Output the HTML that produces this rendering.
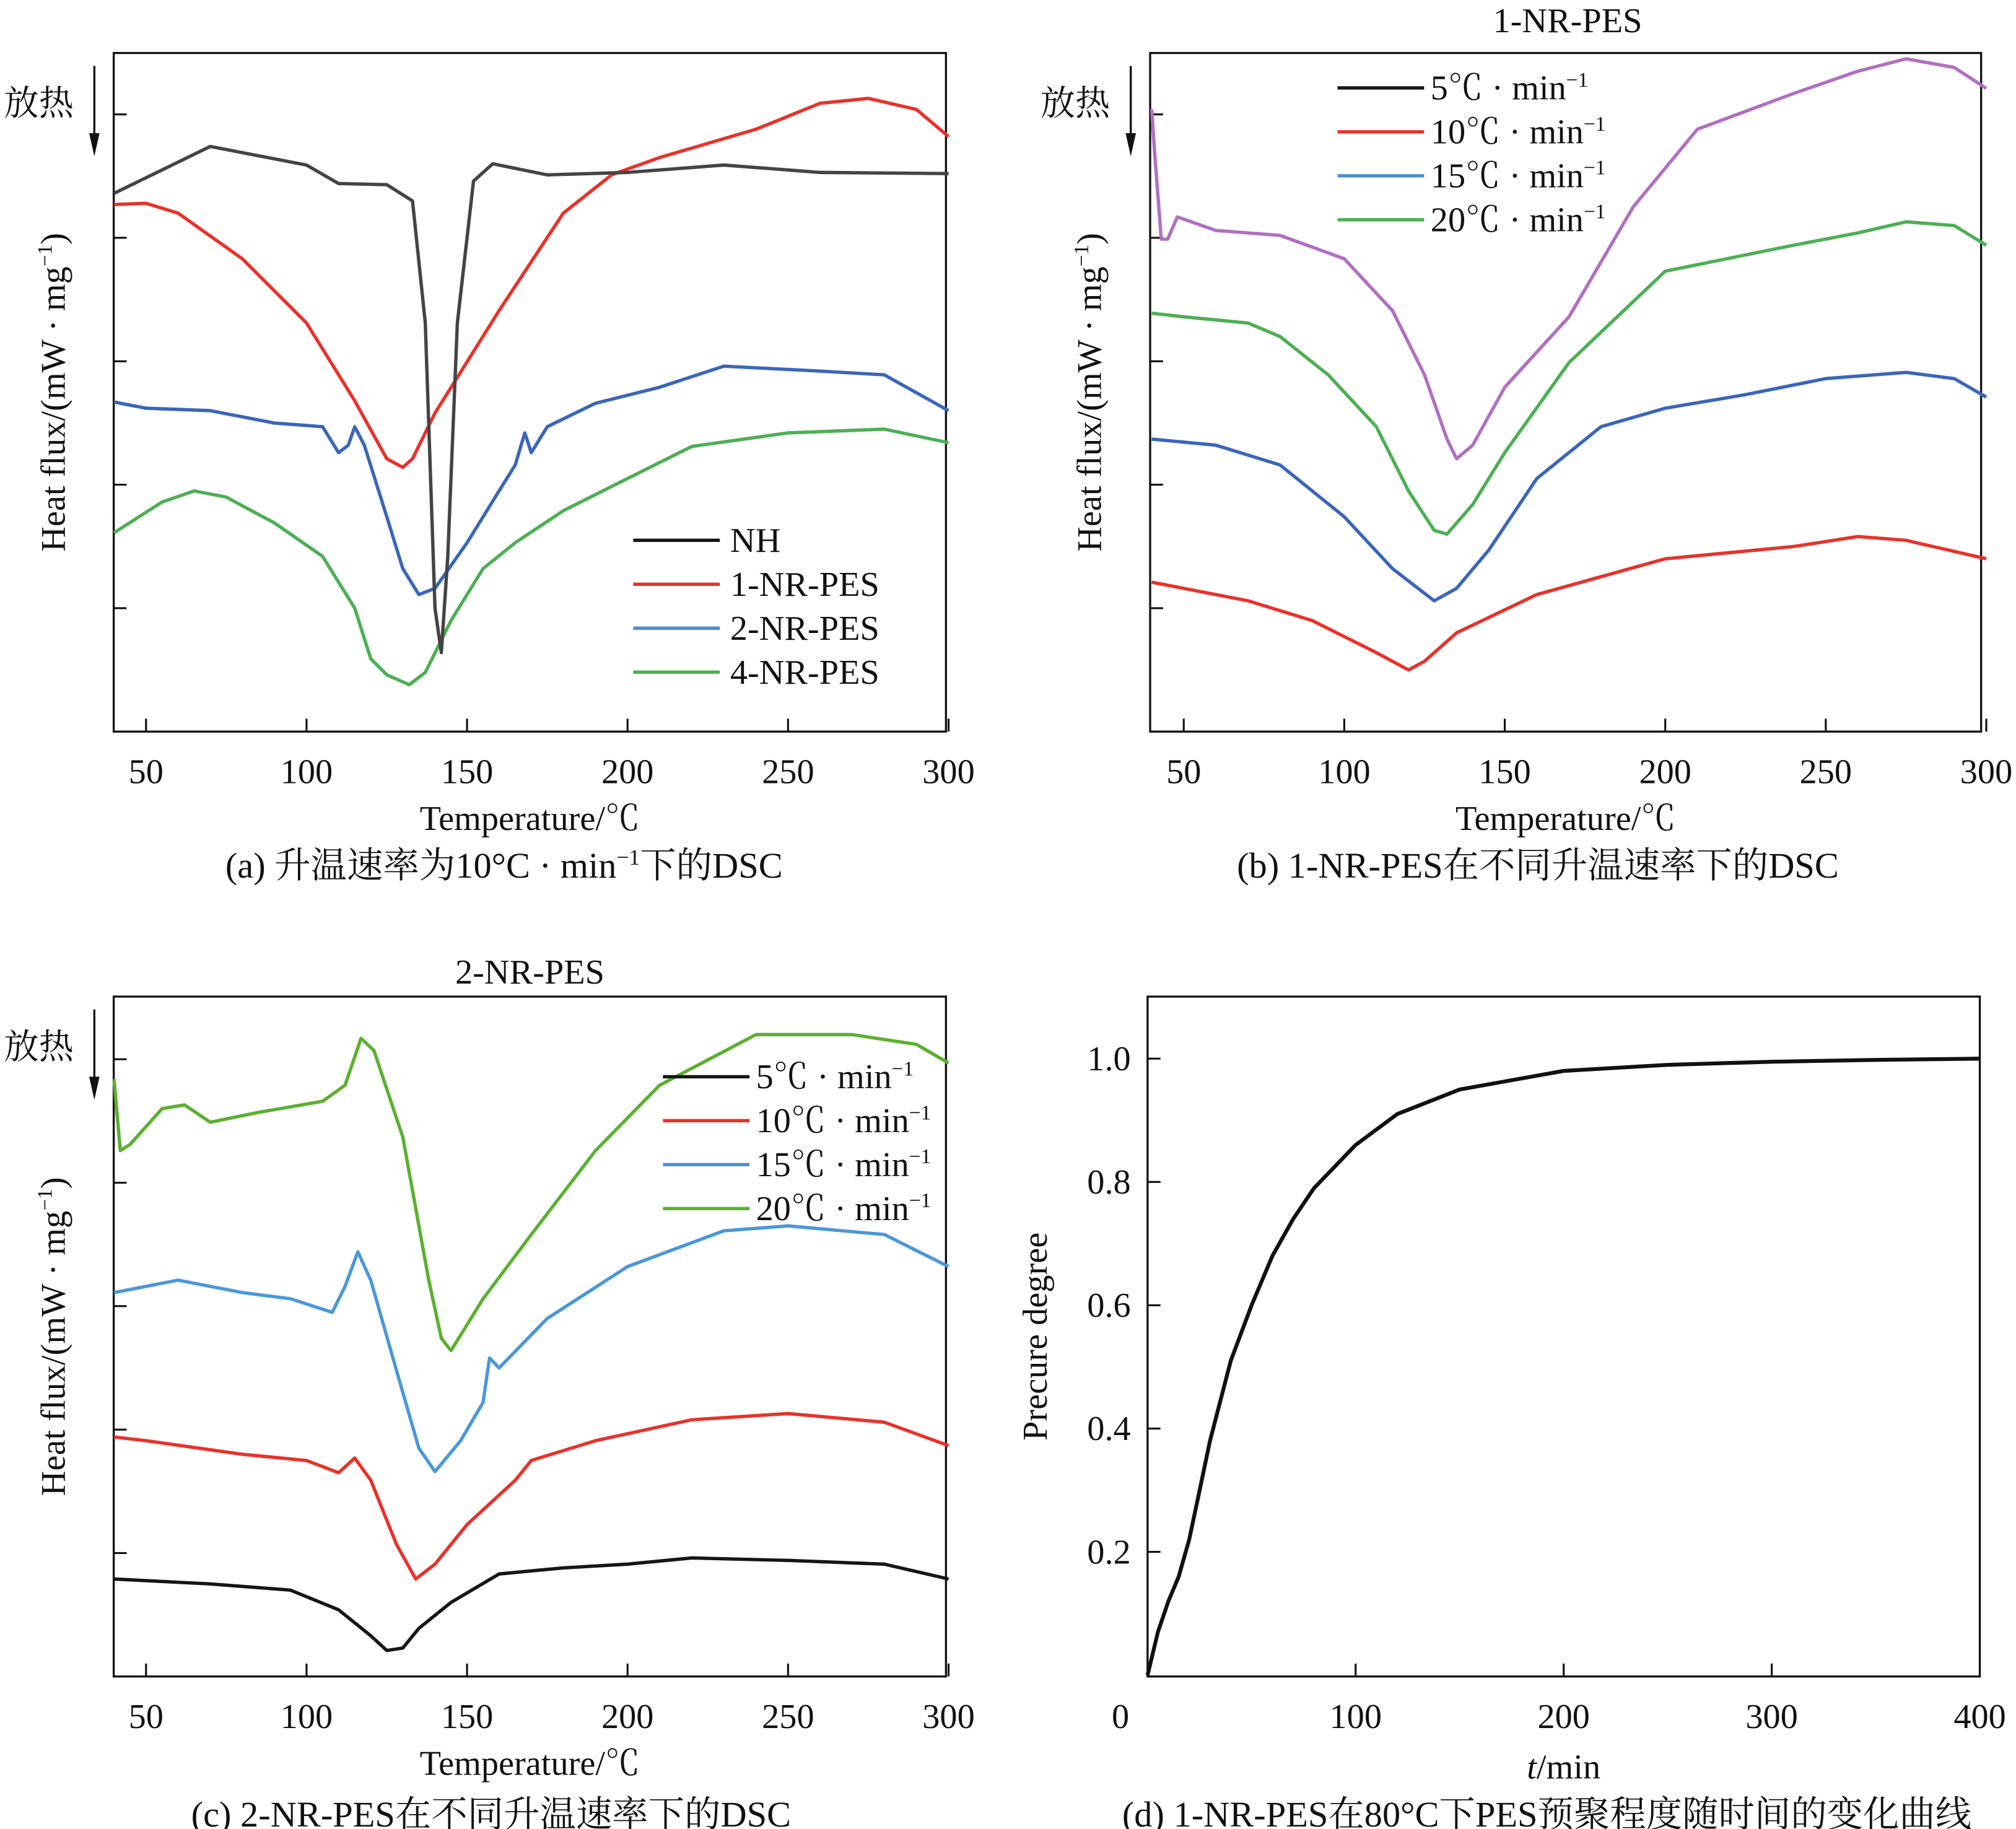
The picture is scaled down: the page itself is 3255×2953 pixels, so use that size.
<!DOCTYPE html>
<html><head><meta charset="utf-8">
<style>
html,body{margin:0;padding:0;background:#fff;}
svg{display:block;}
text{font-family:"Liberation Serif","Noto Serif CJK SC",serif;fill:#111;}
</style></head>
<body>
<svg id="fig" xmlns="http://www.w3.org/2000/svg" width="3255" height="2953" viewBox="0 0 1560 1415" preserveAspectRatio="none"></svg>
<script>
// ---------- data ----------
const aNH_T=[40,70,100,110,125,133,137,140,142,144,147,152,158,175,200,230,260,300];
const aNH_V=[4.36,4.74,4.59,4.44,4.43,4.30,3.31,1.0,0.64,1.42,3.31,4.46,4.6,4.51,4.53,4.59,4.53,4.52];
const a1_T=[40,50,60,80,100,115,125,130,133,140,160,180,195,210,240,260,275,290,300];
const a1_V=[4.27,4.28,4.2,3.83,3.31,2.68,2.21,2.14,2.21,2.58,3.41,4.2,4.51,4.65,4.88,5.09,5.13,5.04,4.82];
const a2_T=[40,50,70,90,105,110,113,115,118,125,130,135,140,150,160,165,168,170,175,190,210,230,260,280,300];
const a2_V=[2.67,2.62,2.6,2.5,2.47,2.26,2.32,2.47,2.32,1.74,1.32,1.11,1.16,1.53,1.95,2.16,2.42,2.26,2.47,2.66,2.79,2.96,2.92,2.89,2.6];
const a4_T=[40,55,65,75,90,105,115,120,125,132,137,145,155,165,180,200,220,250,280,300];
const a4_V=[1.61,1.86,1.95,1.9,1.69,1.42,1.0,0.59,0.46,0.38,0.48,0.90,1.32,1.53,1.79,2.05,2.31,2.42,2.45,2.34];
const bP_T=[40,41,43,45,48,60,80,100,115,125,132,135,140,150,170,190,210,240,260,275,290,300];
const bP_V=[5.04,4.67,3.99,3.99,4.17,4.06,4.02,3.83,3.41,2.89,2.37,2.21,2.32,2.79,3.36,4.25,4.88,5.17,5.35,5.45,5.38,5.21];
const bG_T=[40,50,70,80,95,110,120,128,132,140,150,170,200,240,260,275,290,300];
const bG_V=[3.39,3.36,3.31,3.2,2.89,2.47,1.95,1.63,1.6,1.84,2.26,2.99,3.73,3.94,4.04,4.13,4.1,3.94];
const bB_T=[40,60,80,100,115,128,135,145,160,180,200,225,250,275,290,300];
const bB_V=[2.37,2.32,2.16,1.74,1.32,1.06,1.16,1.47,2.05,2.47,2.62,2.73,2.86,2.91,2.86,2.71];
const bR_T=[40,70,90,110,120,125,135,160,200,240,260,275,300];
const bR_V=[1.21,1.06,0.9,0.64,0.5,0.57,0.8,1.11,1.4,1.5,1.58,1.55,1.4];
const cG_T=[40,42,45,55,62,70,85,105,112,117,121,130,138,142,145,155,170,190,210,240,270,290,300];
const cG_V=[4.84,4.26,4.31,4.6,4.63,4.49,4.57,4.66,4.79,5.17,5.07,4.37,3.22,2.74,2.64,3.06,3.58,4.26,4.79,5.2,5.2,5.12,4.97];
const cB_T=[40,60,80,95,108,112,116,120,128,135,140,148,155,157,160,175,200,230,250,280,300];
const cB_V=[3.11,3.21,3.11,3.06,2.95,3.16,3.44,3.21,2.48,1.85,1.66,1.91,2.22,2.58,2.50,2.9,3.32,3.61,3.65,3.58,3.32];
const cR_T=[40,50,80,100,110,115,120,128,134,140,150,165,170,190,220,250,280,300];
const cR_V=[1.94,1.91,1.8,1.75,1.65,1.77,1.59,1.07,0.79,0.91,1.23,1.59,1.75,1.91,2.08,2.13,2.06,1.87];
const cK_T=[40,70,95,110,120,125,130,135,145,160,180,200,220,250,280,300];
const cK_V=[0.79,0.75,0.70,0.54,0.33,0.21,0.23,0.39,0.6,0.83,0.88,0.91,0.96,0.94,0.91,0.79];
const dT=[0,5,10,15,20,25,30,40,50,60,70,80,100,120,150,200,250,300,350,400];
const dV=[0,0.07,0.12,0.16,0.22,0.30,0.38,0.51,0.60,0.68,0.74,0.79,0.86,0.91,0.95,0.98,0.99,0.995,0.998,1.0];
const tempTicks=[50,100,150,200,250,300];
const dXTicks=[0,100,200,300,400];
const dYTicks=[0.2,0.4,0.6,0.8,1.0];

const svg=document.getElementById('fig');
const NS='http://www.w3.org/2000/svg';
function mk(tag,attrs,parent){const e=document.createElementNS(NS,tag);for(const k in attrs)e.setAttribute(k,attrs[k]);(parent||svg).appendChild(e);return e;}
function txt(x,y,s,size,anchor,parent){const t=mk('text',{x:x,y:y,'font-size':size||26,'text-anchor':anchor||'middle'},parent);t.textContent=s;return t;}

function panel(name,L,T,R,B,xMin,xMax,x50px,x300px){
  const g=mk('g',{});
  
  
  const xs=v=>x50px+(v-50)*(x300px-x50px)/250;
  const ys=v=>B-v*95.5;
  const fr=mk('rect',{x:L,y:T,width:R-L,height:B-T,fill:'none',stroke:'#111','stroke-width':1.6},g);
  
  
  tempTicks.forEach(t=>{
    mk('line',{x1:xs(t),x2:xs(t),y1:B,y2:B-10,stroke:'#111','stroke-width':1.5},g);
    const lb=txt(xs(t),B+40,String(t),27,'middle',g);
    
    
  });
  for(let k=1;k<=5;k++){mk('line',{x1:L,x2:L+10,y1:ys(k),y2:ys(k),stroke:'#111','stroke-width':1.5},g);}
  const xt=txt((L+R)/2,B+76,'Temperature/℃',27,'middle',g);
  
  
  const yt=mk('text',{x:0,y:0,'font-size':27,'text-anchor':'middle',transform:`translate(${L-38},${(T+B)/2}) rotate(-90)`},g);
  yt.innerHTML='Heat flux/(mW · mg<tspan dy="-10" font-size="16">−1</tspan><tspan dy="10">)</tspan>';
  
  
  const ex=txt(L-58,T+48,'放热',27,'middle',g);
  
  
  const ar=mk('line',{x1:L-15,x2:L-15,y1:T+10,y2:T+68,stroke:'#111','stroke-width':1.6},g);
  
  
  mk('polygon',{points:`${L-19},${T+62} ${L-11},${T+62} ${L-15},${T+80}`,fill:'#111'},g);
  return {g,xs,ys};
}
function curve(p,T,V,color,name){
  const d=T.map((t,i)=>(i?'L':'M')+p.xs(t).toFixed(1)+','+p.ys(V[i]).toFixed(1)).join('');
  const e=mk('path',{d:d,fill:'none',stroke:color,'stroke-width':2.6,'stroke-linejoin':'round'},p.g);
  
  
}
function legend(p,x1,x2,xt,y0,items,rate){
  items.forEach((it,i)=>{
    const y=y0+i*34;
    const l=mk('line',{x1:x1,x2:x2,y1:y,y2:y,stroke:it[1],'stroke-width':2.6},p.g);
    
    
    const t=mk('text',{x:xt,y:y+9,'font-size':27,'text-anchor':'start'},p.g);
    if(rate) t.innerHTML=it[0]+'℃ · min<tspan dy="-10" font-size="16">−1</tspan>';
    else t.textContent=it[0];
    
    
  });
}
const RED='#e8322b',GREEN='#4daf55',BLACK='#151515';
const pa=panel('panel-a',88,41,732,566,40,300,113,734);
curve(pa,a1_T,a1_V,RED,'series-1-nr-pes');
curve(pa,a2_T,a2_V,'#3b66b8','series-2-nr-pes');
curve(pa,a4_T,a4_V,GREEN,'series-4-nr-pes');
curve(pa,aNH_T,aNH_V,'#444','series-nh');
legend(pa,490,557,565,418,[['NH',BLACK],['1-NR-PES',RED],['2-NR-PES','#4a8fd0'],['4-NR-PES',GREEN]],false);
const pb=panel('panel-b',890,41,1533,566,40,300,916,1537);
curve(pb,bP_T,bP_V,'#b070c0','series-purple');
curve(pb,bG_T,bG_V,GREEN,'series-green');
curve(pb,bB_T,bB_V,'#3b66b8','series-blue');
curve(pb,bR_T,bR_V,RED,'series-red');
legend(pb,1035,1102,1107,68,[['5',BLACK],['10',RED],['15','#4a8fd0'],['20',GREEN]],true);
const tb=txt(1213,25,'1-NR-PES',27);
const pc=panel('panel-c',88,771,732,1297,40,300,113,734);
curve(pc,cG_T,cG_V,'#5cb030','series-20');
curve(pc,cB_T,cB_V,'#4a98d8','series-15');
curve(pc,cR_T,cR_V,RED,'series-10');
curve(pc,cK_T,cK_V,BLACK,'series-5');
legend(pc,513,580,585,833,[['5',BLACK],['10',RED],['15','#4a8fd0'],['20','#5cb030']],true);
const tc=txt(410,761,'2-NR-PES',27);
(function(){
  const L=888,T=771,R=1532,B=1297;
  const g=mk('g',{});
  
  
  const xs=v=>L+v*(R-L)/400, ys=v=>1296-v*(1296-819);
  mk('rect',{x:L,y:T,width:R-L,height:B-T,fill:'none',stroke:'#111','stroke-width':1.6},g);
  dXTicks.forEach(t=>{
    if(t>0&&t<400) mk('line',{x1:xs(t),x2:xs(t),y1:B,y2:B-10,stroke:'#111','stroke-width':1.5},g);
    const lb=txt(t===0?867:xs(t),B+40,String(t),27,'middle',g);
    
  });
  dYTicks.forEach(v=>{
    mk('line',{x1:L,x2:L+10,y1:ys(v),y2:ys(v),stroke:'#111','stroke-width':1.5},g);
    const lb=txt(875,ys(v)+9,v.toFixed(1),27,'end',g);
    
  });
  const d=dT.map((t,i)=>(i?'L':'M')+xs(t).toFixed(1)+','+ys(dV[i]).toFixed(1)).join('');
  const c=mk('path',{d:d,fill:'none',stroke:'#111','stroke-width':3,'stroke-linejoin':'round'},g);
  
  const xt=mk('text',{x:1210,y:1376,'font-size':27,'text-anchor':'middle'},g);
  xt.innerHTML='<tspan font-style="italic">t</tspan>/min';
  
  const yt=mk('text',{x:0,y:0,'font-size':27,'text-anchor':'middle',transform:'translate(810,1034) rotate(-90)'},g);
  yt.textContent='Precure degree';
  
})();
const c1=mk('text',{x:390,y:679,'font-size':28,'text-anchor':'middle'});
c1.innerHTML='(a) 升温速率为10°C · min<tspan dy="-10" font-size="17">−1</tspan><tspan dy="10">下的DSC</tspan>';

const c2=txt(1190,679,'(b) 1-NR-PES在不同升温速率下的DSC',28);
const c3=txt(380,1413,'(c) 2-NR-PES在不同升温速率下的DSC',28);
const c4=txt(1197,1413,'(d) 1-NR-PES在80°C下PES预聚程度随时间的变化曲线',28);
</script>
</body></html>
